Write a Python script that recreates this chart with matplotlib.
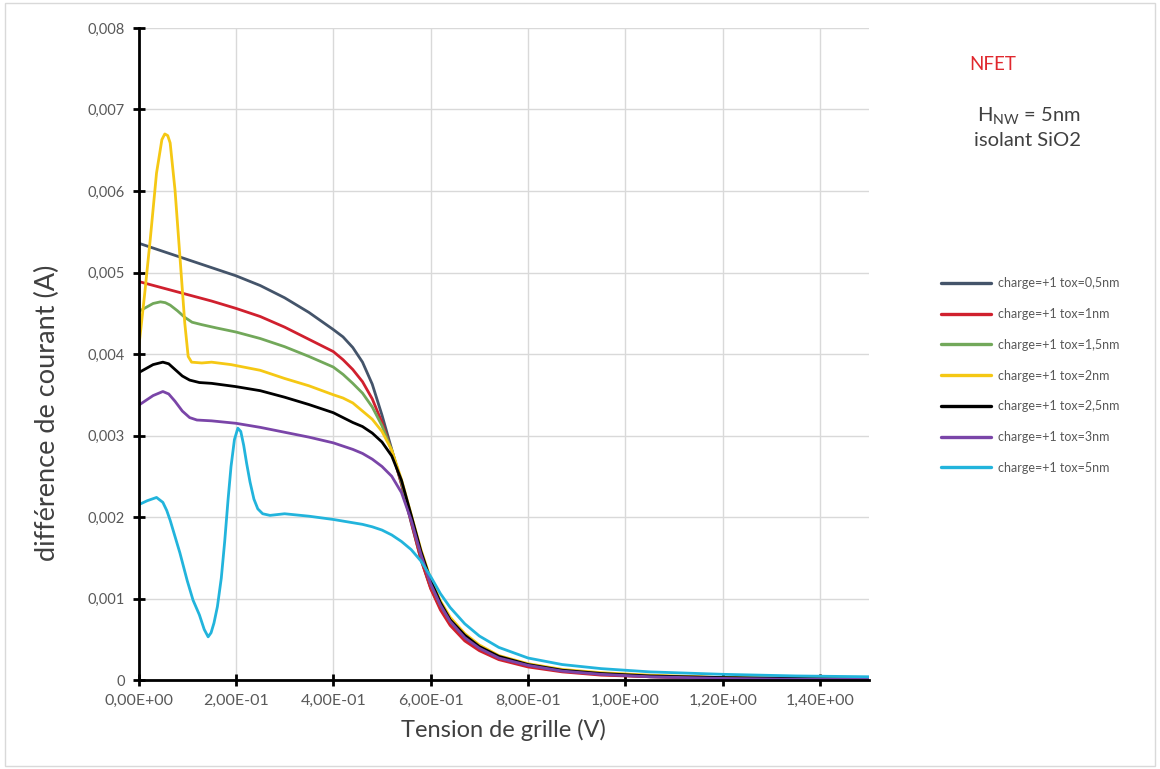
import matplotlib
matplotlib.use("Agg")
import matplotlib.pyplot as plt
from matplotlib.ticker import FuncFormatter, MultipleLocator
from matplotlib.patches import Rectangle

plt.rcParams['font.family'] = ['Lato', 'DejaVu Sans']

labels = ["charge=+1 tox=0,5nm", "charge=+1 tox=1nm", "charge=+1 tox=1,5nm",
          "charge=+1 tox=2nm", "charge=+1 tox=2,5nm", "charge=+1 tox=3nm",
          "charge=+1 tox=5nm"]
colors = ["#44546A", "#D0202E", "#72A85A", "#F5C814", "#000000", "#7A45A8", "#22B4DC"]

# shared tail abscissae (V) for the drop region
x_tail = [0.4, 0.42, 0.44, 0.46, 0.48, 0.5, 0.52, 0.54, 0.56, 0.58, 0.6, 0.62, 0.64,
          0.67, 0.7, 0.74, 0.8, 0.87, 0.95, 1.05, 1.2, 1.35, 1.5]

x_05 = [0, 0.05, 0.1, 0.15, 0.2, 0.25, 0.3, 0.35] + x_tail
y_05 = [0.00536, 0.00526, 0.00516, 0.00506, 0.00496, 0.00484, 0.00469, 0.00451,
        0.00430, 0.00421, 0.00408, 0.00390, 0.00363, 0.00325, 0.00283, 0.00240, 0.00193,
        0.00148, 0.00113, 0.00088, 0.00069, 0.00050, 0.00038, 0.00027, 0.00017, 0.00011,
        0.00007, 0.00004, 0.00002, 0.00001, 0.00001]

x_1 = [0, 0.05, 0.1, 0.15, 0.2, 0.25, 0.3, 0.35] + x_tail
y_1 = [0.00489, 0.00481, 0.00473, 0.00465, 0.00456, 0.00446, 0.00433, 0.00418,
       0.00403, 0.00393, 0.00381, 0.00366, 0.00345, 0.00316, 0.00281, 0.00241, 0.00194,
       0.00148, 0.00112, 0.00086, 0.00067, 0.00048, 0.00036, 0.00025, 0.00016, 0.00010,
       0.00006, 0.00004, 0.00002, 0.00001, 0.00001]

x_15 = [0, 0.015, 0.03, 0.045, 0.055, 0.065, 0.08, 0.095, 0.11, 0.13, 0.16, 0.2, 0.25,
        0.3, 0.35] + x_tail
y_15 = [0.00452, 0.00457, 0.00462, 0.00464, 0.00463, 0.00460, 0.00453, 0.00445, 0.00439,
        0.00436, 0.00432, 0.00427, 0.00419, 0.00409, 0.00397,
        0.00384, 0.00375, 0.00364, 0.00352, 0.00335, 0.00312, 0.00282, 0.00243, 0.00198,
        0.00154, 0.00118, 0.00092, 0.00072, 0.00053, 0.00040, 0.00028, 0.00019, 0.00012,
        0.00008, 0.00005, 0.00003, 0.00002, 0.00002]

x_2 = [0, 0.012, 0.024, 0.037, 0.048, 0.054, 0.06, 0.065, 0.075, 0.085, 0.095, 0.102,
       0.109, 0.13, 0.15, 0.19, 0.25, 0.3, 0.35] + x_tail
y_2 = [0.00405, 0.00470, 0.00540, 0.00622, 0.00663, 0.00670, 0.00668, 0.00659, 0.00601,
       0.00520, 0.00438, 0.00397, 0.00390, 0.00389, 0.00390, 0.00387, 0.00380, 0.00370,
       0.00361,
       0.00350, 0.00346, 0.00340, 0.00330, 0.00320, 0.00305, 0.00282, 0.00246, 0.00203,
       0.00160, 0.00124, 0.00097, 0.00077, 0.00057, 0.00043, 0.00030, 0.00020, 0.00013,
       0.00009, 0.00006, 0.00003, 0.00002, 0.00002]

x_25 = [0, 0.015, 0.03, 0.05, 0.062, 0.075, 0.09, 0.105, 0.125, 0.15, 0.2, 0.25, 0.3,
        0.35] + x_tail
y_25 = [0.00377, 0.00382, 0.00387, 0.00390, 0.00388, 0.00381, 0.00373, 0.00368, 0.00365,
        0.00364, 0.00360, 0.00355, 0.00347, 0.00338,
        0.00328, 0.00322, 0.00316, 0.00311, 0.00303, 0.00292, 0.00275, 0.00245, 0.00202,
        0.00158, 0.00122, 0.00095, 0.00074, 0.00055, 0.00041, 0.00029, 0.00019, 0.00012,
        0.00008, 0.00005, 0.00003, 0.00002, 0.00001]

x_3 = [0, 0.015, 0.03, 0.05, 0.062, 0.075, 0.09, 0.105, 0.12, 0.15, 0.2, 0.25, 0.3,
       0.35] + x_tail
y_3 = [0.00337, 0.00343, 0.00349, 0.00354, 0.00351, 0.00342, 0.00330, 0.00322, 0.00319,
       0.00318, 0.00315, 0.00310, 0.00304, 0.00298,
       0.00291, 0.00287, 0.00283, 0.00278, 0.00271, 0.00262, 0.00250, 0.00230, 0.00196,
       0.00154, 0.00118, 0.00092, 0.00072, 0.00052, 0.00039, 0.00027, 0.00018, 0.00011,
       0.00007, 0.00004, 0.00002, 0.00001, 0.00001]

x_5 = [0, 0.018, 0.037, 0.05, 0.058, 0.065, 0.075, 0.085, 0.1, 0.112, 0.125, 0.135,
       0.143, 0.149, 0.155, 0.162, 0.17, 0.177, 0.184, 0.19, 0.197, 0.204, 0.21, 0.216,
       0.222, 0.229, 0.237, 0.245, 0.255, 0.27, 0.3, 0.35] + x_tail
y_5 = [0.00215, 0.00220, 0.00224, 0.00218, 0.00208, 0.00196, 0.00176, 0.00156, 0.00122,
       0.00098, 0.00080, 0.00062, 0.00053, 0.00058, 0.00070, 0.00090, 0.00125, 0.00170,
       0.00222, 0.00262, 0.00295, 0.00309, 0.00305, 0.00288, 0.00266, 0.00243, 0.00222,
       0.00210, 0.00204, 0.00202, 0.00204, 0.00201,
       0.00197, 0.00195, 0.00193, 0.00191, 0.00188, 0.00184, 0.00178, 0.00170, 0.00160,
       0.00146, 0.00127, 0.00106, 0.00089, 0.00069, 0.00054, 0.00040, 0.00027, 0.00019,
       0.00014, 0.00010, 0.00007, 0.00005, 0.00004]

series_x = [x_05, x_1, x_15, x_2, x_25, x_3, x_5]
series_y = [y_05, y_1, y_15, y_2, y_25, y_3, y_5]

fig = plt.figure(figsize=(11.6, 7.69), dpi=100)
fig.patches.append(Rectangle((0.004, 0.004), 0.992, 0.992, transform=fig.transFigure,
                             fill=False, edgecolor="#D9D9D9", linewidth=1))
ax = fig.add_axes([0.1194, 0.1157, 0.6297, 0.8479])

for xs, ys, c, lab in zip(series_x, series_y, colors, labels):
    ax.plot(xs, ys, color=c, lw=2.0, label=lab, solid_joinstyle='round',
            solid_capstyle='round')

ax.set_xlim(0, 1.5)
ax.set_ylim(0, 0.008)
ax.xaxis.set_major_locator(MultipleLocator(0.2))
ax.yaxis.set_major_locator(MultipleLocator(0.001))


def yfmt(v, pos):
    if abs(v) < 1e-12:
        return "0"
    return ("%.3f" % v).replace(".", ",")


def xfmt(v, pos):
    return ("%.2E" % v).replace(".", ",")


ax.yaxis.set_major_formatter(FuncFormatter(yfmt))
ax.xaxis.set_major_formatter(FuncFormatter(xfmt))

ax.grid(True, color="#D9D9D9", lw=1)
ax.set_axisbelow(True)
for s in ["top", "right"]:
    ax.spines[s].set_visible(False)
for s in ["left", "bottom"]:
    ax.spines[s].set_linewidth(2)
    ax.spines[s].set_color("black")
ax.tick_params(axis='both', direction='inout', length=8, width=2, color='black',
               labelcolor="#595959", pad=6)
ax.tick_params(axis='y', labelsize=10.5)
ax.tick_params(axis='x', labelsize=11.5)

ax.set_xlabel("Tension de grille (V)", fontsize=17, color="#404040", labelpad=8)
ax.set_ylabel("différence de courant (A)", fontsize=19.5, color="#404040")
ax.yaxis.set_label_coords(-0.108, 0.41)

fig.text(993 / 1160, 1 - 65 / 769, "NFET", color="#E0282E", fontsize=13.5,
         ha="center", va="center")
fig.text(1029 / 1160, 1 - 116 / 769, r"H$_{\mathregular{NW}}$ = 5nm", color="#404040",
         fontsize=14.5, ha="center", va="center")
fig.text(1028 / 1160, 1 - 141 / 769, "isolant SiO2", color="#404040", fontsize=14.5,
         ha="center", va="center")

leg = fig.legend(loc="upper left", bbox_to_anchor=(930 / 1160, 1 - 266 / 769),
                 frameon=False, fontsize=9, handlelength=4.0, labelspacing=1.5,
                 handletextpad=0.5)
for t in leg.get_texts():
    t.set_color("#595959")
for h in leg.get_lines():
    h.set_linewidth(2.4)

fig.savefig("out.png", dpi=100)
